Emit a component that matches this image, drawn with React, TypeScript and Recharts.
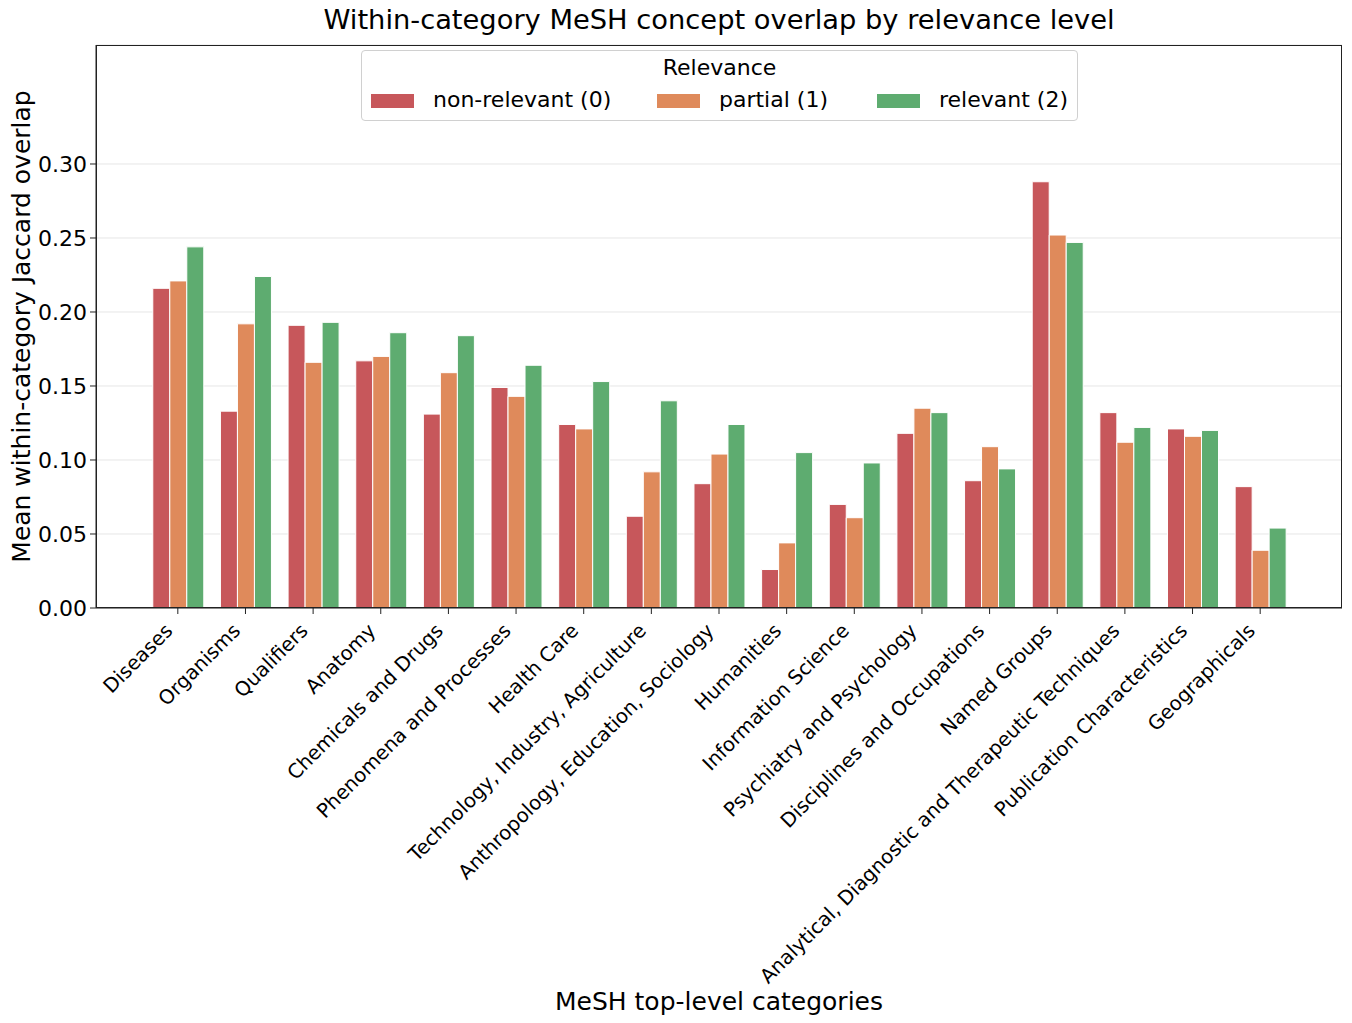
import { BarChart, Bar, XAxis, YAxis, CartesianGrid } from "recharts";

const categories = [
  "Diseases",
  "Organisms",
  "Qualifiers",
  "Anatomy",
  "Chemicals and Drugs",
  "Phenomena and Processes",
  "Health Care",
  "Technology, Industry, Agriculture",
  "Anthropology, Education, Sociology",
  "Humanities",
  "Information Science",
  "Psychiatry and Psychology",
  "Disciplines and Occupations",
  "Named Groups",
  "Analytical, Diagnostic and Therapeutic Techniques",
  "Publication Characteristics",
  "Geographicals",
];

const nonRelevant = [
  0.216, 0.133, 0.191, 0.167, 0.131, 0.149, 0.124, 0.062, 0.084, 0.026, 0.07,
  0.118, 0.086, 0.288, 0.132, 0.121, 0.082,
];
const partial = [
  0.221, 0.192, 0.166, 0.17, 0.159, 0.143, 0.121, 0.092, 0.104, 0.044, 0.061,
  0.135, 0.109, 0.252, 0.112, 0.116, 0.039,
];
const relevant = [
  0.244, 0.224, 0.193, 0.186, 0.184, 0.164, 0.153, 0.14, 0.124, 0.105, 0.098,
  0.132, 0.094, 0.247, 0.122, 0.12, 0.054,
];

const yTicks = [0, 0.05, 0.1, 0.15, 0.2, 0.25, 0.3];

const series = [
  { key: "nonRelevant", label: "non-relevant (0)", color: "#C44E52" },
  { key: "partial", label: "partial (1)", color: "#DD8452" },
  { key: "relevant", label: "relevant (2)", color: "#55A868" },
];

const data = categories.map((name, i) => ({
  name,
  nonRelevant: nonRelevant[i],
  partial: partial[i],
  relevant: relevant[i],
}));

const FONT = "'DejaVu Sans', sans-serif";

const XTick = ({ x, y, payload }: any) => {
  const px = x - 4;
  const py = y + 16;
  return (
    <text
      x={px}
      y={py}
      textAnchor="end"
      fontSize={19.8}
      fontFamily={FONT}
      fill="#000"
      transform={`rotate(-45, ${px}, ${py})`}
    >
      {payload.value}
    </text>
  );
};

const LegendBox = () => (
  <div
    style={{
      position: "absolute",
      left: 361,
      top: 50,
      width: 717,
      height: 71,
      boxSizing: "border-box",
      border: "1px solid #d0d0d0",
      borderRadius: 4,
      background: "rgba(255,255,255,0.8)",
      fontFamily: FONT,
      fontSize: 22,
      color: "#000",
    }}
  >
    <div
      style={{
        position: "absolute",
        left: 0,
        width: "100%",
        top: 4,
        textAlign: "center",
        lineHeight: "26px",
      }}
    >
      Relevance
    </div>
    {series.map((s, i) => {
      const left = [9, 295, 515][i];
      return (
        <div key={s.key}>
          <div
            style={{
              position: "absolute",
              left,
              top: 43,
              width: 43,
              height: 14,
              background: s.color,
              opacity: 0.95,
            }}
          />
          <div
            style={{
              position: "absolute",
              left: left + 62,
              top: 36,
              lineHeight: "26px",
              whiteSpace: "nowrap",
            }}
          >
            {s.label}
          </div>
        </div>
      );
    })}
  </div>
);

export default function App() {
  return (
    <div
      style={{
        position: "absolute",
        left: 0,
        top: 0,
        width: 1352,
        height: 1023,
        background: "#fff",
      }}
    >
      <div
        style={{
          position: "absolute",
          left: 96,
          width: 1246,
          top: 2,
          textAlign: "center",
          fontFamily: FONT,
          fontSize: 27.3,
          lineHeight: "36px",
          color: "#000",
        }}
      >
        Within-category MeSH concept overlap by relevance level
      </div>
      <BarChart
        width={1352}
        height={1023}
        data={data}
        margin={{ top: 45, right: 10, left: 0, bottom: 0 }}
        barCategoryGap="13%"
        barGap={0}
      >
        <CartesianGrid vertical={false} stroke="#e6e6e6" strokeWidth={1} />
        <XAxis
          dataKey="name"
          interval={0}
          height={415}
          padding={{ left: 48, right: 48 }}
          tick={<XTick />}
          tickSize={6}
          tickMargin={2}
          stroke="#222"
          tickLine={{ stroke: "#222" }}
          axisLine={{ stroke: "#222" }}
          label={({ viewBox }: any) => (
            <text
              x={viewBox.x + viewBox.width / 2}
              y={1010}
              textAnchor="middle"
              fontSize={25}
              fontFamily={FONT}
              fill="#000"
            >
              MeSH top-level categories
            </text>
          )}
        />
        <YAxis
          width={96}
          domain={[0, 0.3804]}
          ticks={yTicks}
          allowDataOverflow
          tickFormatter={(v: number) => v.toFixed(2)}
          tick={{ fontSize: 22, fontFamily: FONT, fill: "#000" }}
          tickSize={6}
          tickMargin={3}
          stroke="#222"
          axisLine={{ stroke: "#222" }}
          tickLine={{ stroke: "#222" }}
          label={({ viewBox }: any) => (
            <text
              x={30}
              y={viewBox.y + viewBox.height / 2}
              textAnchor="middle"
              fontSize={25}
              fontFamily={FONT}
              fill="#000"
              transform={`rotate(-90, 30, ${viewBox.y + viewBox.height / 2})`}
            >
              Mean within-category Jaccard overlap
            </text>
          )}
        />
        {series.map((s) => (
          <Bar
            key={s.key}
            dataKey={s.key}
            name={s.label}
            fill={s.color}
            fillOpacity={0.95}
            stroke="#ffffff"
            strokeWidth={1}
            isAnimationActive={false}
          />
        ))}
      </BarChart>
      <div
        style={{
          position: "absolute",
          left: 96,
          top: 45,
          width: 1246,
          height: 563,
          boxSizing: "border-box",
          border: "1px solid #222",
          pointerEvents: "none",
        }}
      />
      <LegendBox />
    </div>
  );
}
